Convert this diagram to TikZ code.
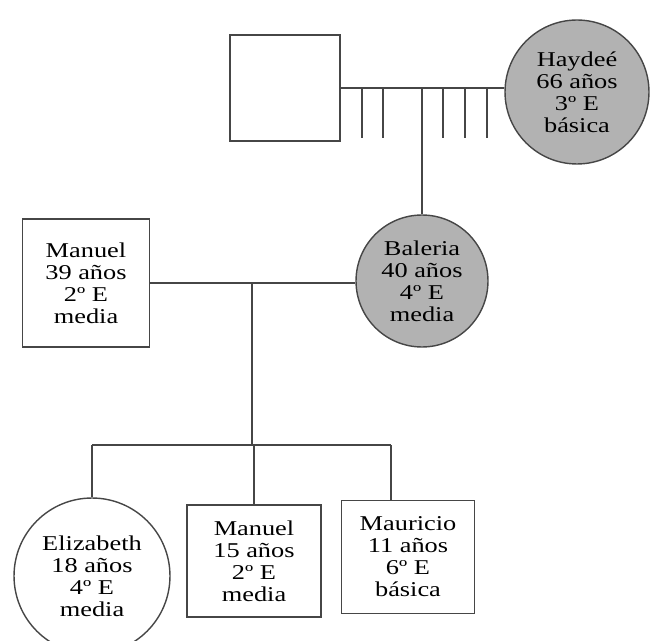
\documentclass[tikz,border=0pt]{standalone}
\usepackage{fontspec}
\setmainfont{Liberation Serif}[FakeStretch=1.25]
\usetikzlibrary{shapes.geometric, positioning, calc}
\definecolor{linegray}{RGB}{70,70,70}
\definecolor{femalegray}{RGB}{178,178,178}

\begin{document}
\begin{tikzpicture}[
        x=0.02cm, y=-0.02cm,
        line width=0.8pt, draw=linegray,
        person/.style={draw=linegray, line width=0.8pt, align=center, inner sep=0pt,
            font=\fontsize{12}{12.5}\selectfont},
        male/.style={person, rectangle},
        female/.style={person, circle},
        shaded/.style={fill=femalegray}
    ]
    \useasboundingbox (0,0) rectangle (652,641);

    % abuelos
    \node[male, minimum width=2.2cm, minimum height=2.12cm] (abuelo) at (285,88) {};
    \node[female, shaded, minimum size=2.88cm] (haydee) at (577,92) {Haydeé\\66 años\\3º E\\básica};

    % padres
    \node[male, minimum width=2.54cm, minimum height=2.56cm] (manuel) at (86,283) {Manuel\\39 años\\2º E\\media};
    \node[female, shaded, minimum size=2.64cm] (baleria) at (422,281) {Baleria\\40 años\\4º E\\media};

    % hijos
    \node[female, minimum size=3.12cm] (elizabeth) at (92,576) {Elizabeth\\18 años\\4º E\\media};
    \node[male, minimum width=2.68cm, minimum height=2.24cm] (manuelh) at (254,561) {Manuel\\15 años\\2º E\\media};
    \node[male, minimum width=2.66cm, minimum height=2.26cm] (mauricio) at (408,557) {Mauricio\\11 años\\6º E\\básica};

    \coordinate (hijos) at (252,445);
    \coordinate (der) at (391,445);

    % lineas
    \draw (abuelo.east) -- (abuelo.east -| haydee.west);
    \foreach \x in {362,383,443,465,487}
        \draw (\x,0 |- abuelo.east) -- ++(0,50);
    \draw (baleria.north |- abuelo.east) -- (baleria.north);

    \draw (manuel.east) -- (manuel.east -| baleria.west);
    \draw (manuel.east -| hijos) -- (hijos);
    \draw (elizabeth.north |- hijos) -- (der);
    \draw (elizabeth.north |- hijos) -- (elizabeth.north);
    \draw (hijos -| manuelh.north) -- (manuelh.north);
    \draw (der) -- (der |- mauricio.north);
\end{tikzpicture}
\end{document}
